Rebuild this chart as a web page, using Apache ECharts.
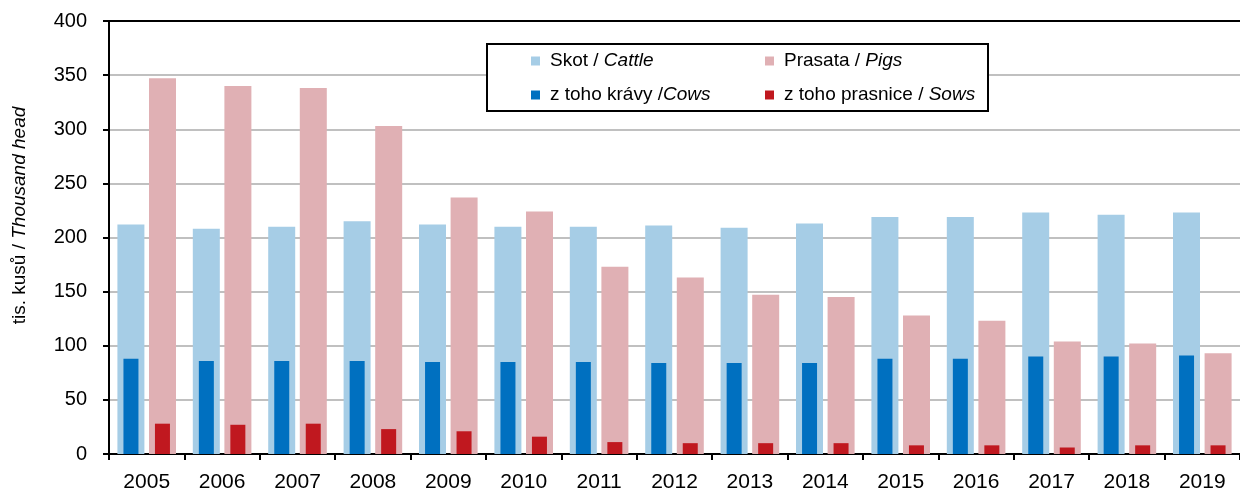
<!DOCTYPE html>
<html>
<head>
<meta charset="utf-8">
<title>Skot a prasata</title>
<script src="https://cdn.jsdelivr.net/npm/echarts@6/dist/echarts.min.js"></script>
<style>
    html, body { margin: 0; padding: 0; background: #fff; }
    #livestock_bars { width: 1240px; height: 493px; }
</style>
</head>
<body>
<div id="livestock_bars"></div>
<script>

// Data
// ------------------------------

var years = ['2005', '2006', '2007', '2008', '2009', '2010', '2011', '2012', '2013', '2014', '2015', '2016', '2017', '2018', '2019'];
var cattle = [212, 208, 210, 215, 212, 210, 210, 211, 209, 213, 219, 219, 223, 221, 223];
var pigs = [347, 340, 338, 303, 237, 224, 173, 163, 147, 145, 128, 123, 104, 102, 93];
var cows = [88, 86, 86, 86, 85, 85, 85, 84, 84, 84, 88, 88, 90, 90, 91];
var sows = [28, 27, 28, 23, 21, 16, 11, 10, 10, 10, 8, 8, 6, 8, 8];
var yTicks = { min: 0, max: 400, interval: 50 };


// Setup
// ------------------------------

var LivestockBars = function() {

    var _livestockBarsExample = function() {
        if (typeof echarts == 'undefined') {
            console.warn('Warning - echarts.min.js is not loaded.');
            return;
        }

        var livestock_bars_element = document.getElementById('livestock_bars');
        if (!livestock_bars_element) {
            return;
        }

        var livestock_bars = echarts.init(livestock_bars_element);

        // Styles
        var fontFamily = 'Liberation Sans, Arial, sans-serif',
            labelColor = '#000',
            axisLineColor = '#000',
            splitLineColor = '#c0c0c0',
            cattleColor = '#a6cde6',
            pigsColor = '#e0b0b4',
            cowsColor = '#0070c0',
            sowsColor = '#c0181f';

        var legendText = {
            color: labelColor,
            fontFamily: fontFamily,
            fontSize: 19,
            lineHeight: 20,
            padding: [0, 0, 0, 5],
            rich: {
                i: { fontStyle: 'italic', fontSize: 19, fontFamily: fontFamily, color: labelColor }
            }
        };

        var legendBase = {
            orient: 'vertical',
            top: 51,
            padding: 0,
            itemGap: 14,
            itemWidth: 9,
            itemHeight: 9,
            icon: 'rect',
            selectedMode: false,
            textStyle: legendText,
            formatter: function(name) {
                var parts = name.split('|');
                return parts[0] + '{i|' + parts[1] + '}';
            }
        };

        livestock_bars.setOption({
            animation: false,

            textStyle: {
                fontFamily: fontFamily
            },

            grid: {
                left: 109,
                top: 21,
                bottom: 37,
                width: 1145
            },

            // Legend box
            graphic: [{
                type: 'rect',
                z: 3,
                shape: { x: 487, y: 44, width: 501, height: 67 },
                style: { fill: '#fff', stroke: '#000', lineWidth: 2 }
            }],

            legend: [
                Object.assign({}, legendBase, {
                    left: 531,
                    data: ['Skot / |Cattle', 'z toho krávy /|Cows']
                }),
                Object.assign({}, legendBase, {
                    left: 765,
                    data: ['Prasata / |Pigs', 'z toho prasnice / |Sows']
                })
            ],

            xAxis: [
                {
                    type: 'category',
                    data: years,
                    position: 'bottom',
                    axisLine: { lineStyle: { color: axisLineColor, width: 2 } },
                    axisTick: { show: true, length: 6, lineStyle: { color: axisLineColor, width: 2 } },
                    axisLabel: { color: labelColor, fontSize: 21, margin: 18, fontFamily: fontFamily },
                    splitLine: { show: false }
                },
                {
                    type: 'category',
                    data: years,
                    position: 'top',
                    axisLine: { lineStyle: { color: axisLineColor, width: 2 } },
                    axisTick: { show: false },
                    axisLabel: { show: false },
                    splitLine: { show: false }
                }
            ],

            yAxis: {
                type: 'value',
                min: yTicks.min,
                max: yTicks.max,
                interval: yTicks.interval,
                name: 'tis. kusů / {i|Thousand head}',
                nameLocation: 'middle',
                nameRotate: 90,
                nameGap: 80,
                nameTextStyle: {
                    color: labelColor,
                    fontSize: 19,
                    fontFamily: fontFamily,
                    padding: [0, 0, 0, 44],
                    rich: {
                        i: { fontStyle: 'italic', fontSize: 19, fontFamily: fontFamily, color: labelColor }
                    }
                },
                axisLine: { show: true, lineStyle: { color: axisLineColor, width: 2 } },
                axisTick: { show: true, length: 6, lineStyle: { color: axisLineColor, width: 2 } },
                axisLabel: { color: labelColor, fontSize: 20, margin: 22, fontFamily: fontFamily },
                splitLine: { show: true, lineStyle: { color: splitLineColor, width: 2 } }
            },

            series: [
                {
                    name: 'Skot / |Cattle',
                    type: 'bar',
                    xAxisIndex: 0,
                    data: cattle,
                    barWidth: 27,
                    barGap: '17%',
                    itemStyle: { color: cattleColor }
                },
                {
                    name: 'Prasata / |Pigs',
                    type: 'bar',
                    xAxisIndex: 0,
                    data: pigs,
                    barWidth: 27,
                    barGap: '17%',
                    itemStyle: { color: pigsColor }
                },
                {
                    name: 'z toho krávy /|Cows',
                    type: 'bar',
                    xAxisIndex: 1,
                    data: cows,
                    barWidth: 15,
                    barGap: '110%',
                    z: 3,
                    itemStyle: { color: cowsColor }
                },
                {
                    name: 'z toho prasnice / |Sows',
                    type: 'bar',
                    xAxisIndex: 1,
                    data: sows,
                    barWidth: 15,
                    barGap: '110%',
                    z: 3,
                    itemStyle: { color: sowsColor }
                }
            ]
        });
    };

    return {
        init: function() {
            _livestockBarsExample();
        }
    }
}();


// Initialize module
// ------------------------------

document.addEventListener('DOMContentLoaded', function() {
    LivestockBars.init();
});
</script>
</body>
</html>
